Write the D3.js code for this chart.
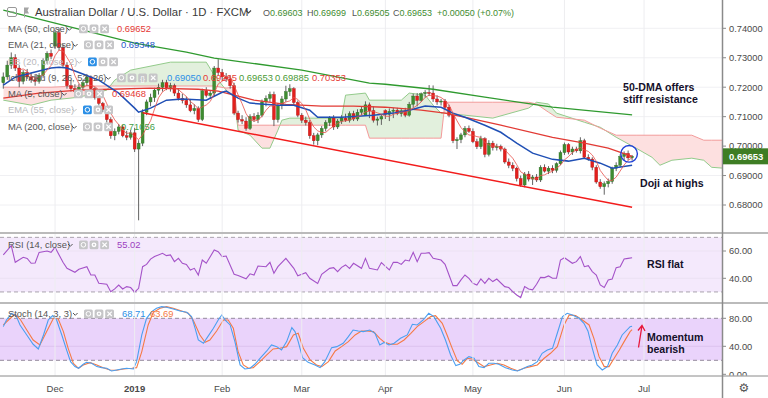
<!DOCTYPE html>
<html><head><meta charset="utf-8">
<script src="https://cdn.jsdelivr.net/npm/d3@7"></script>
<style>
html,body{margin:0;padding:0;background:#fff;overflow:hidden}
svg{display:block;font-family:"Liberation Sans",Arial,sans-serif}
</style></head><body>
<svg id="c" width="768" height="398"></svg>
<script>
// ---------- DATA ----------
const opens = [.7215,.7235,.7275,.7300,.7265,.7220,.7250,.7235,.7225,.7220,.7240,.7290,.7315,.7340,.7385,.7335,.7275,.7205,.7195,.7185,
.7200,.7215,.7235,.7195,.7165,.7145,.7125,.7090,.7035,.7050,.7065,.7035,.7030,.7045,.6990,.7010,.7115,.7150,.7165,.7190,
.7200,.7215,.7198,.7205,.7180,.7162,.7155,.7140,.7120,.7128,.7090,.7188,.7172,.7180,.7265,.7250,.7235,.7228,.7205,.7112,
.7090,.7085,.7060,.7100,.7090,.7105,.7150,.7162,.7175,.7090,.7138,.7160,.7185,.7195,.7148,.7105,.7088,.7080,.7035,.7018,
.7038,.7060,.7080,.7095,.7065,.7085,.7095,.7088,.7110,.7092,.7115,.7105,.7140,.7120,.7088,.7092,.7120,.7108,.7118,.7122,
.7110,.7120,.7105,.7142,.7170,.7155,.7178,.7182,.7180,.7160,.7150,.7153,.7132,.7105,.7018,.7022,.7038,.7060,.7050,.7015,
.6998,.7025,.6972,.7010,.6995,.6999,.6990,.6946,.6935,.6925,.6890,.6868,.6905,.6888,.6895,.6885,.6928,.6915,.6925,.6918,
.6940,.6978,.7005,.6980,.6990,.6984,.7018,.6962,.6956,.6928,.6878,.6862,.6872,.6880,.6925,.6935,.6965,.6975,.69603];
const highs = [.7250,.7290,.7318,.7312,.7275,.7258,.7262,.7248,.7245,.7248,.7298,.7322,.7328,.7395,.7400,.7345,.7285,.7225,.7210,.7212,
.7225,.7245,.7240,.7200,.7178,.7150,.7130,.7098,.7060,.7075,.7072,.7052,.7055,.7062,.7020,.7125,.7158,.7178,.7198,.7212,
.7225,.7225,.7215,.7212,.7195,.7178,.7168,.7160,.7142,.7135,.7195,.7200,.7190,.7272,.7295,.7262,.7248,.7240,.7215,.7120,
.7105,.7098,.7108,.7112,.7115,.7158,.7172,.7185,.7185,.7145,.7170,.7205,.7210,.7200,.7155,.7112,.7100,.7088,.7045,.7045,
.7068,.7088,.7102,.7105,.7092,.7105,.7110,.7118,.7120,.7125,.7135,.7152,.7148,.7135,.7100,.7108,.7125,.7128,.7130,.7130,
.7128,.7130,.7150,.7178,.7180,.7182,.7190,.7207,.7206,.7172,.7160,.7160,.7140,.7112,.7030,.7045,.7068,.7070,.7060,.7025,
.7035,.7030,.7020,.7018,.7008,.7005,.6995,.6958,.6945,.6930,.6900,.6912,.6915,.6902,.6905,.6935,.6938,.6932,.6935,.6945,
.6985,.7012,.7010,.6998,.6998,.7030,.7025,.6972,.6962,.6935,.6888,.6880,.6890,.6930,.6945,.6972,.6982,.6985,.69699];
const lows = [.7195,.7225,.7262,.7255,.7200,.7210,.7228,.7215,.7205,.7212,.7232,.7280,.7295,.7330,.7325,.7265,.7195,.7185,.7175,.7178,
.7190,.7205,.7185,.7158,.7138,.7115,.7080,.7025,.7020,.7040,.7030,.7020,.7022,.6980,.6748,.7000,.7105,.7135,.7150,.7175,
.7185,.7190,.7185,.7170,.7155,.7145,.7130,.7115,.7108,.7082,.7085,.7165,.7160,.7170,.7240,.7225,.7218,.7195,.7105,.7080,
.7075,.7052,.7055,.7082,.7078,.7098,.7135,.7150,.7068,.7080,.7125,.7150,.7170,.7140,.7098,.7078,.7070,.7025,.7005,.7003,
.7028,.7050,.7068,.7055,.7058,.7075,.7082,.7080,.7085,.7085,.7105,.7110,.7095,.7080,.7070,.7072,.7092,.7085,.7095,.7105,
.7100,.7098,.7100,.7130,.7135,.7150,.7165,.7170,.7150,.7140,.7138,.7125,.7098,.7010,.6990,.7010,.7030,.7045,.7010,.6990,
.6990,.6962,.6965,.6985,.6985,.6982,.6940,.6925,.6915,.6880,.6862,.6860,.6880,.6868,.6878,.6878,.6910,.6905,.6908,.6910,
.6935,.6970,.6972,.6970,.6978,.6975,.6958,.6950,.6918,.6872,.6855,.6835,.6860,.6872,.6915,.6928,.6952,.6952,.69505];
const closes = [.7235,.7275,.7300,.7265,.7220,.7250,.7235,.7225,.7220,.7240,.7290,.7315,.7305,.7385,.7335,.7275,.7205,.7195,.7185,.7200,
.7215,.7235,.7195,.7165,.7145,.7125,.7090,.7035,.7050,.7065,.7035,.7030,.7045,.6990,.7010,.7115,.7150,.7165,.7190,.7200,
.7215,.7198,.7205,.7180,.7162,.7155,.7140,.7120,.7128,.7090,.7188,.7172,.7180,.7265,.7250,.7235,.7228,.7205,.7112,.7090,
.7085,.7060,.7100,.7090,.7105,.7150,.7162,.7175,.7090,.7138,.7160,.7185,.7195,.7148,.7105,.7088,.7080,.7035,.7018,.7038,
.7060,.7080,.7095,.7065,.7085,.7095,.7088,.7110,.7092,.7115,.7125,.7140,.7120,.7088,.7092,.7100,.7108,.7118,.7122,.7110,
.7120,.7105,.7142,.7170,.7155,.7178,.7182,.7180,.7160,.7150,.7153,.7132,.7105,.7018,.7022,.7038,.7060,.7050,.7015,.6998,
.7025,.6972,.7010,.6995,.6999,.6990,.6946,.6935,.6925,.6890,.6868,.6905,.6888,.6895,.6885,.6928,.6915,.6925,.6918,.6940,
.6978,.7005,.6980,.6990,.6984,.7018,.6962,.6956,.6928,.6878,.6862,.6872,.6880,.6925,.6935,.6965,.6975,.6960,.69653];

const ma50Bars = [0,9,19,27,37,49,54,63,71,80,88,96,105,111,117,125,138,146,152,158];
const ma50Vals = [.7163,.7180,.7190,.7193,.7197,.7193,.7187,.7156,.7142,.7136,.7136,.7132,.7122,.7112,.7095,.7071,.7030,.7010,.6993,.6965];
const ema21Bars = [0,3,7,12,14,16,20,24,29,33,34,37,41,45,51,55,56,59,62,69,73,77,79,85,93,98,102,106,110,113,116,121,125,129,133,138,142,146,150,153,158];
const ema21Vals = [.7207,.7234,.7248,.7265,.7268,.7265,.7245,.7224,.7180,.7129,.7115,.7129,.7156,.7160,.7156,.7183,.7187,.7163,.7146,.7139,.7139,.7122,.7098,.7098,.7105,.7112,.7122,.7136,.7132,.7112,.7098,.7071,.7047,.7010,.6976,.6955,.6949,.6959,.6942,.6925,.6935];
const ma200Bars = [0,33,46,53,75,92,96,108,121,138,158];
const ma200Vals = [.7462,.7350,.7319,.7299,.7258,.7214,.7210,.7193,.7166,.7132,.7106];

const cloudBars = [0,7,12,19,26,28,32,42,51,53,56,58,59,62,65,67,69,70,72,85,86,91,92,100,102,106,108,110,111,123,132,134,137,139,146,150,154,159,163,165,168,173,176,178,181];
const leadA = [.7156,.7139,.7156,.7166,.7190,.7224,.7258,.7285,.7285,.7241,.7190,.7166,.7054,.7037,.6993,.6993,.7054,.7088,.7095,.7095,.7173,.7180,.7156,.7156,.7180,.7173,.7139,.7112,.7112,.7095,.7129,.7149,.7143,.7112,.7081,.7064,.7030,.6993,.6962,.6935,.6952,.6959,.6952,.6928,.6925];
const leadB = [.7200,.7200,.7200,.7204,.7204,.7204,.7204,.7204,.7204,.7204,.7197,.7200,.7071,.7071,.7071,.7071,.7071,.7071,.7071,.7071,.7071,.7071,.7027,.7027,.7027,.7027,.7027,.7027,.7149,.7149,.7149,.7143,.7115,.7098,.7088,.7061,.7037,.7037,.7037,.7037,.7037,.7037,.7020,.7020,.7020];

const trendBars = [35,158];
const trendVals = [.7113,.6792];

const rsiBars = [0,2,3,5,6,7,8,9,11,12,13,15,16,18,19,21,22,23,24,26,27,28,29,30,31,32,33,34,35,36,37,38,40,41,42,43,44,45,46,47,48,49,50,51,53,54,55,56,58,59,61,62,63,64,66,67,68,69,71,73,74,76,77,79,80,82,83,84,85,86,87,88,90,91,92,94,95,97,98,99,100,101,102,103,104,105,106,107,108,110,111,112,113,114,115,116,117,118,119,120,121,122,123,124,126,127,128,129,130,131,132,133,134,135,136,137,138,139,140,141,143,144,145,146,147,148,149,150,151,152,153,154,155,156,157,158];
const rsiVals = [57.1,63.9,51.7,55.4,54.6,51.0,51.2,59.0,60.0,59.0,62.7,51.7,47.3,44.4,46.6,48.5,42.4,42.4,36.3,35.6,30.2,32.2,35.1,32.2,33.9,33.2,29.8,32.7,48.5,50.2,54.1,55.9,58.3,56.6,57.1,52.2,54.6,51.0,50.2,46.1,47.3,42.4,53.4,51.0,60.7,59.5,55.9,56.3,43.0,42.0,39.6,43.3,42.4,49.0,48.5,51.7,43.7,48.5,54.6,47.3,41.9,44.1,40.0,36.3,42.9,47.3,47.8,44.9,48.0,49.8,47.3,51.0,47.3,54.6,47.3,46.1,51.5,46.1,51.7,51.7,50.2,53.4,52.7,59.0,52.2,58.3,58.3,58.8,54.6,53.4,50.2,42.4,34.6,34.6,38.8,42.4,40.0,36.3,35.1,39.5,36.3,40.0,37.6,39.5,33.9,33.2,30.2,27.8,25.9,33.9,32.2,31.5,35.6,40.7,40.5,41.7,40.0,40.0,53.4,55.1,51.0,52.2,55.9,48.5,49.3,44.9,42.4,35.1,33.2,38.8,39.5,47.8,48.5,54.1,54.6,55.0];

const stochKBars = [0,0.8,2.1,3.2,4.2,5.9,7.5,8.8,10.1,11.3,12.4,13.4,14.7,15.9,16.9,18.0,18.9,20.1,20.9,22.2,23.5,24.7,26.0,27.2,28.5,29.7,31.0,32.7,33.5,34.8,36.0,37.3,38.5,39.8,41.0,42.7,44.4,46.1,47.3,48.2,49.0,50.3,51.1,52.8,54.0,54.9,55.7,57.0,58.2,59.5,60.7,62.0,63.2,64.5,66.2,67.4,68.7,69.9,71.2,72.5,73.3,74.1,75.2,76.6,78.3,79.6,80.8,82.5,83.8,85.4,86.7,87.9,89.2,90.5,92.1,93.4,94.6,95.7,96.9,98.2,99.8,101.5,102.8,104.0,105.5,106.9,108.2,109.9,111.1,112.4,113.7,114.7,115.8,117.0,118.3,119.5,120.8,122.0,123.3,124.5,126.2,127.9,129.2,130.4,131.7,132.9,134.2,135.4,136.7,138.0,139.2,140.5,141.7,143.0,144.7,145.9,146.9,148.0,149.2,150.5,151.8,153.0,154.3,155.5,157.5,158];
const stochKVals = [68.1,77.6,87.1,83.8,70.5,56.2,42.9,36.2,56.2,77.6,83.8,77.6,56.2,34.8,18.1,11.0,8.6,14.3,17.1,15.7,11.0,9.5,8.6,4.8,6.2,7.6,8.6,7.6,18.1,56.2,80.0,89.5,94.3,96.7,95.7,93.3,90.5,88.6,82.4,65.7,49.0,44.3,51.4,65.7,77.6,84.8,77.6,70.5,46.7,13.3,7.6,8.6,14.3,22.9,33.3,41.9,39.5,34.8,46.7,66.7,61.0,46.7,23.8,17.1,13.3,9.5,18.1,38.1,39.5,44.3,53.8,63.3,61.9,61.0,63.3,58.6,41.9,45.5,41.9,44.3,51.4,56.2,71.4,70.5,77.6,87.1,82.4,65.7,49.0,27.6,12.4,14.3,20.5,25.2,22.9,11.0,9.5,15.7,15.7,14.3,9.5,6.2,4.8,7.6,11.0,13.3,18.1,30.0,34.8,37.1,58.6,82.4,87.1,84.8,80.0,72.9,61.9,37.1,13.3,6.2,11.0,30.0,41.9,56.2,68.1,68.7];
const stochDBars = [0,1.3,2.9,4.2,5.9,7.5,9.2,10.9,12.6,13.8,15.1,16.3,17.6,18.9,20.1,21.8,23.5,25.1,26.8,28.5,30.2,32.3,33.5,34.8,36.4,37.7,39.4,41.0,42.7,44.8,46.5,47.7,49.4,50.7,51.9,53.6,55.3,56.5,57.8,59.0,60.3,61.6,62.8,64.5,66.2,67.8,69.5,71.2,72.9,74.1,75.4,77.1,78.7,80.0,81.7,83.4,85.0,86.7,88.4,90.0,91.3,93.0,94.6,95.7,97.3,99.0,100.7,102.4,104.0,105.7,107.4,108.6,110.3,111.5,112.8,114.1,115.3,116.6,117.8,119.5,120.8,122.4,124.1,125.8,127.5,129.2,130.8,132.5,134.2,135.9,137.5,139.2,140.9,142.2,143.8,145.5,147.2,148.4,149.7,151.0,152.2,153.5,154.8,156.0,157.5,158];
const stochDVals = [70.5,77.6,85.7,79.0,63.3,49.0,41.9,61.0,80.0,79.0,61.0,37.1,15.7,8.6,13.3,16.7,13.3,9.5,6.2,5.7,7.6,8.6,9.5,32.4,70.5,88.6,94.3,96.7,94.3,90.5,87.1,77.6,56.2,45.7,49.0,61.9,77.6,77.6,65.7,32.4,13.3,8.6,9.5,18.1,27.6,36.2,37.1,39.5,56.2,58.6,37.1,20.5,13.3,11.0,18.1,33.3,39.5,46.7,56.2,61.9,61.9,61.0,51.4,46.0,42.9,42.9,49.0,58.6,68.1,75.2,82.4,83.8,72.9,56.2,37.1,19.0,14.3,22.9,21.9,15.7,11.0,13.3,15.7,13.3,8.6,5.2,8.6,11.0,13.3,22.9,30.0,39.5,70.5,84.8,83.8,77.6,70.5,51.4,25.2,11.0,11.0,22.9,34.8,46.7,61.0,63.7];

const tickBars = [13,33,55,75,96,118,141,161];
const tickLabels = ['Dec','2019','Feb','Mar','Apr','May','Jun','Jul'];
const priceTicks = [0.68,0.69,0.70,0.71,0.72,0.73,0.74];
const rsiTicks = [40,60];
const stochTicks = [0,40,80];

// ---------- SCALES ----------
const svg = d3.select('#c');
const PR = 722;
const x = d3.scaleLinear().domain([0,158]).range([3.3,632.1]);
const yP = d3.scaleLinear().domain([0.68,0.74]).range([205,28.3]);
const yR = d3.scaleLinear().domain([40,60]).range([278.3,251]);
const yS = d3.scaleLinear().domain([0,80]).range([374.3,318.3]);

const defs = svg.append('defs');
function clip(id,y0,h){defs.append('clipPath').attr('id',id).append('rect').attr('x',0).attr('y',y0).attr('width',PR).attr('height',h);}
clip('cp',0,232); clip('cr',234,68); clip('cs',304,71.5);

// ---------- BACKGROUND / GRID ----------
const grid = svg.append('g');
priceTicks.forEach(p=>grid.append('line').attr('x1',0).attr('x2',PR).attr('y1',yP(p)).attr('y2',yP(p)).attr('stroke','#f0f0f3'));
const gR = svg.append('g').attr('clip-path','url(#cr)');
gR.append('rect').attr('x',0).attr('width',PR).attr('y',yR(70)).attr('height',yR(30)-yR(70)).attr('fill','#f4e9fc');
rsiTicks.forEach(v=>gR.append('line').attr('x1',0).attr('x2',PR).attr('y1',yR(v)).attr('y2',yR(v)).attr('stroke','#ece2f3'));
const gS = svg.append('g').attr('clip-path','url(#cs)');
gS.append('rect').attr('x',0).attr('width',PR).attr('y',yS(80)).attr('height',yS(20)-yS(80)).attr('fill','#ead3fb');
gS.append('line').attr('x1',0).attr('x2',PR).attr('y1',yS(40)).attr('y2',yS(40)).attr('stroke','#dcc3ef');
tickBars.forEach(b=>{
  [[0,232],[234,302],[304,375.5]].forEach(([a,c])=>grid.append('line').attr('x1',x(b)).attr('x2',x(b)).attr('y1',a).attr('y2',c).attr('stroke','#ededf0'));
});
grid.raise();
[[yR,70],[yR,30]].forEach(([s,v])=>gR.append('line').attr('x1',0).attr('x2',PR).attr('y1',s(v)).attr('y2',s(v)).attr('stroke','#a9a2ad').attr('stroke-dasharray','4,3'));
[[yS,80],[yS,20]].forEach(([s,v])=>gS.append('line').attr('x1',0).attr('x2',PR).attr('y1',s(v)).attr('y2',s(v)).attr('stroke','#948a9c').attr('stroke-dasharray','4,3'));

// ---------- PRICE PANEL ----------
const gP = svg.append('g').attr('clip-path','url(#cp)');
const cloud = cloudBars.map((b,k)=>({b, a:leadA[k], c:leadB[k]}));
defs.append('clipPath').attr('id','cAbove').append('path')
  .attr('d', d3.area().x(d=>x(d.b)).y0(0).y1(d=>yP(d.c))(cloud));
defs.append('clipPath').attr('id','cBelow').append('path')
  .attr('d', d3.area().x(d=>x(d.b)).y0(232).y1(d=>yP(d.c))(cloud));
const cloudArea = d3.area().x(d=>x(d.b)).y0(d=>yP(d.c)).y1(d=>yP(d.a));
gP.append('path').attr('d',cloudArea(cloud)).attr('fill','#e2f0dd').attr('clip-path','url(#cAbove)');
gP.append('path').attr('d',cloudArea(cloud)).attr('fill','#fde0e0').attr('clip-path','url(#cBelow)');
gP.append('path').attr('d',d3.line().x(d=>x(d.b)).y(d=>yP(d.a))(cloud)).attr('fill','none').attr('stroke','#93cb8b').attr('stroke-width',1);
gP.append('path').attr('d',d3.line().x(d=>x(d.b)).y(d=>yP(d.c))(cloud)).attr('fill','none').attr('stroke','#f39a9a').attr('stroke-width',1);

const bars = closes.map((c,i)=>({i,o:opens[i],h:highs[i],l:lows[i],c}));
const cg = gP.append('g');
cg.selectAll('line.w').data(bars).join('line').attr('class','w')
  .attr('x1',d=>x(d.i)).attr('x2',d=>x(d.i)).attr('y1',d=>yP(d.h)).attr('y2',d=>yP(d.l))
  .attr('stroke','#626262').attr('stroke-width',1);
cg.selectAll('rect.b').data(bars).join('rect').attr('class','b')
  .attr('x',d=>x(d.i)-1.45).attr('width',2.9)
  .attr('y',d=>yP(Math.max(d.o,d.c))).attr('height',d=>Math.max(1,Math.abs(yP(d.o)-yP(d.c))))
  .attr('fill',d=>d.c>=d.o?'#3f8c31':'#e3201d')
  .attr('stroke',d=>d.c>=d.o?'#2f6f25':'#b71515').attr('stroke-width',0.4);

function pline(bs,vs,color,w,op){
  gP.append('path').attr('d',d3.line().x((d,k)=>x(bs[k])).y(d=>yP(d))(vs))
    .attr('fill','none').attr('stroke',color).attr('stroke-width',w).attr('opacity',op||1);
}
pline(ma200Bars,ma200Vals,'#2f9a2f',1.3);
pline(ma50Bars,ma50Vals,'#e23a34',1.3);
pline(ema21Bars,ema21Vals,'#1f4fb5',1.5);
const ma5 = closes.map((c,i)=> i<4 ? null : d3.mean(closes.slice(i-4,i+1)));
gP.append('path').attr('d',d3.line().defined(d=>d!=null).x((d,i)=>x(i)).y(d=>yP(d))(ma5))
  .attr('fill','none').attr('stroke','#e8524c').attr('stroke-width',0.9).attr('opacity',0.9);
pline(trendBars,trendVals,'#f21c1c',1.5);

const lastI = closes.length-1;
gP.append('circle').attr('cx',x(lastI)-3).attr('cy',yP(closes[lastI])-2.5).attr('r',8.3)
  .attr('fill','none').attr('stroke','#1f3fd8').attr('stroke-width',1.4);

// ---------- RSI / STOCH LINES ----------
gR.append('path').attr('d',d3.line().x((d,k)=>x(rsiBars[k])).y(d=>yR(d))(rsiVals))
  .attr('fill','none').attr('stroke','#a452c8').attr('stroke-width',1.1);
gS.append('path').attr('d',d3.line().x((d,k)=>x(stochDBars[k])).y(d=>yS(d))(stochDVals))
  .attr('fill','none').attr('stroke','#f57a45').attr('stroke-width',1.1);
gS.append('path').attr('d',d3.line().x((d,k)=>x(stochKBars[k])).y(d=>yS(d))(stochKVals))
  .attr('fill','none').attr('stroke','#4b9ff0').attr('stroke-width',1.1);

// ---------- SEPARATORS / AXES ----------
svg.append('line').attr('x1',0).attr('x2',768).attr('y1',233).attr('y2',233).attr('stroke','#a5a5a5').attr('stroke-width',1.6);
svg.append('line').attr('x1',0).attr('x2',768).attr('y1',303).attr('y2',303).attr('stroke','#a5a5a5').attr('stroke-width',1.6);
svg.append('line').attr('x1',0).attr('x2',768).attr('y1',376).attr('y2',376).attr('stroke','#8a8a8a').attr('stroke-width',1);
svg.append('line').attr('x1',PR+0.5).attr('x2',PR+0.5).attr('y1',0).attr('y2',398).attr('stroke','#8a8a8a').attr('stroke-width',1.5);

const ax = svg.append('g').attr('font-size',9.3).attr('fill','#4a4a4a');
const tick = (y)=>ax.append('line').attr('x1',PR).attr('x2',PR+4).attr('y1',y).attr('y2',y).attr('stroke','#8a8a8a');
priceTicks.forEach(p=>{tick(yP(p)); ax.append('text').attr('x',729).attr('y',yP(p)+3.3).text(p.toFixed(5));});
rsiTicks.forEach(v=>{tick(yR(v)); ax.append('text').attr('x',729).attr('y',yR(v)+3.3).text(v.toFixed(2));});
const sAx = svg.append('g').attr('font-size',9.3).attr('fill','#4a4a4a');
defs.append('clipPath').attr('id','csAx').append('rect').attr('x',PR).attr('y',304).attr('width',50).attr('height',71.5);
sAx.attr('clip-path','url(#csAx)');
stochTicks.forEach(v=>{sAx.append('line').attr('x1',PR).attr('x2',PR+4).attr('y1',yS(v)).attr('y2',yS(v)).attr('stroke','#8a8a8a');
  sAx.append('text').attr('x',729).attr('y',yS(v)+3.3).text(v.toFixed(2));});
svg.append('rect').attr('x',PR+1).attr('y',yP(closes[lastI])-8).attr('width',46).attr('height',16).attr('fill','#3e7d24');
svg.append('text').attr('x',729).attr('y',yP(closes[lastI])+3.4).attr('font-size',9.5).attr('font-weight','bold').attr('fill','#fff').text(closes[lastI].toFixed(5));

tickBars.forEach((b,k)=>svg.append('text').attr('x',x(b)).attr('y',392).attr('text-anchor','middle')
  .attr('font-size',9.5).attr('fill','#4a4a4a').attr('font-weight',tickLabels[k]==='2019'?'bold':'normal').text(tickLabels[k]));
svg.append('text').attr('x',744).attr('y',392).attr('text-anchor','middle').attr('font-family','DejaVu Sans').attr('font-size',12).attr('fill','#555').text('\u2699');

// ---------- LEGENDS ----------
const lg = svg.append('g');
function icons(x0,y,kinds,hidden){
  kinds.forEach((k,j)=>{
    const cx = x0 + j*10.6;
    lg.append('rect').attr('x',cx).attr('y',y-4.6).attr('width',8.8).attr('height',8.8).attr('rx',1.5)
      .attr('fill',(j===0&&hidden)?'#2b8fe6':'#c6c6c8');
    if(k==='eye'){lg.append('circle').attr('cx',cx+4.4).attr('cy',y-0.2).attr('r',2.3).attr('fill','none').attr('stroke','#fff').attr('stroke-width',1);}
    if(k==='gear'){lg.append('circle').attr('cx',cx+4.4).attr('cy',y-0.2).attr('r',2.4).attr('fill','#fff');lg.append('circle').attr('cx',cx+4.4).attr('cy',y-0.2).attr('r',1).attr('fill','#c6c6c8');}
    if(k==='brace'){lg.append('text').attr('x',cx+4.4).attr('y',y+2.5).attr('text-anchor','middle').attr('font-size',7).attr('fill','#fff').text('{}');}
    if(k==='x'){lg.append('path').attr('d',`M${cx+2.2},${y-2.4}L${cx+6.6},${y+2}M${cx+6.6},${y-2.4}L${cx+2.2},${y+2}`).attr('stroke','#fff').attr('stroke-width',1.2);}
  });
}
function row(name,y,chevX,iconX,kinds,hidden,vals){
  lg.append('text').attr('x',8).attr('y',y+3.2).attr('font-size',9.4).attr('fill',hidden?'#b9b9bd':'#555').text(name);
  lg.append('path').attr('d',`M${chevX},${y-1}l2.3,2.3l2.3,-2.3`).attr('fill','none').attr('stroke',hidden?'#c2c2c2':'#555').attr('stroke-width',1);
  icons(iconX,y,kinds,hidden);
  (vals||[]).forEach(v=>lg.append('text').attr('x',v[2]).attr('y',y+3.2).attr('font-size',9.4).attr('fill',v[1]).text(v[0]));
}
const K3=['eye','gear','x'];
row('MA (50, close)',29,67,79,K3,false,[['0.69652','#e53935',117]]);
row('EMA (21, close)',45,73,84,K3,false,[['0.69348','#1e58c8',121]]);
row('BB (20, close, 2)',62,77,88,K3,true);
row('Ichimoku (9, 26, 52, 26)',78,106,117,['eye','gear','brace','x'],false,
  [['0.69050','#2b8fe6',167],['0.69265','#e53935',203],['0.69653','#4a9a35',239],['0.69885','#4a9a35',275],['0.70353','#e53935',312]]);
row('MA (5, close)',94,62,74,K3,false,[['0.69468','#e53935',112]]);
row('EMA (55, close)',110,72,83,K3,true);
row('MA (200, close)',127,72,83,K3,false,[['0.71056','#43a047',121]]);
row('RSI (14, close)',245,68,79,K3,false,[['55.02','#9c3fc0',117]]);
row('Stoch (14, 3, 3)',314,73,84,K3,false,[['68.71','#2b8fe6',122],['63.69','#f57a45',150]]);

lg.append('rect').attr('x',7.5).attr('y',7.5).attr('width',9).attr('height',9).attr('rx',1.5).attr('fill','none').attr('stroke','#999');
lg.append('line').attr('x1',10).attr('x2',14).attr('y1',12).attr('y2',12).attr('stroke','#999');
lg.append('path').attr('d','M24,7.5h5l-1.5,3l1.5,3h-4v4h-1z').attr('fill','#a5a5a5');
lg.append('text').attr('x',35).attr('y',16).attr('font-size',11.3).attr('fill','#3a3a3a').text('Australian Dollar / U.S. Dollar \u00b7 1D \u00b7 FXCM');
lg.append('path').attr('d','M246,10.5l2.5,2.5l2.5,-2.5').attr('fill','none').attr('stroke','#444').attr('stroke-width',1.1);
const ohlcText = [['O','0.69603',263],['H','0.69699',307],['L','0.69505',352],['C','0.69653',393]];
ohlcText.forEach(t=>{const tx=lg.append('text').attr('x',t[2]).attr('y',16).attr('font-size',9);
  tx.append('tspan').attr('fill','#555').text(t[0]); tx.append('tspan').attr('fill','#3f8c31').text(t[1]);});
lg.append('text').attr('x',437).attr('y',16).attr('font-size',9).attr('fill','#3f8c31').text('+0.00050 (+0.07%)');

// ---------- ANNOTATIONS ----------
const an = svg.append('g').attr('font-weight','bold').attr('font-size',10.6).attr('fill','#14102a');
an.append('text').attr('x',623).attr('y',90.5).text('50-DMA offers');
an.append('text').attr('x',623).attr('y',102.5).text('stiff resistance');
an.append('text').attr('x',640).attr('y',187).text('Doji at highs');
an.append('text').attr('x',647).attr('y',268).text('RSI flat');
an.append('text').attr('x',647).attr('y',340.5).text('Momentum');
an.append('text').attr('x',647).attr('y',352.5).text('bearish');
svg.append('path').attr('d','M638.5,347.5L642,325.5M638,330.5L642,325.5L645,331').attr('fill','none').attr('stroke','#e8173a').attr('stroke-width',1.3);
</script>
</body></html>
